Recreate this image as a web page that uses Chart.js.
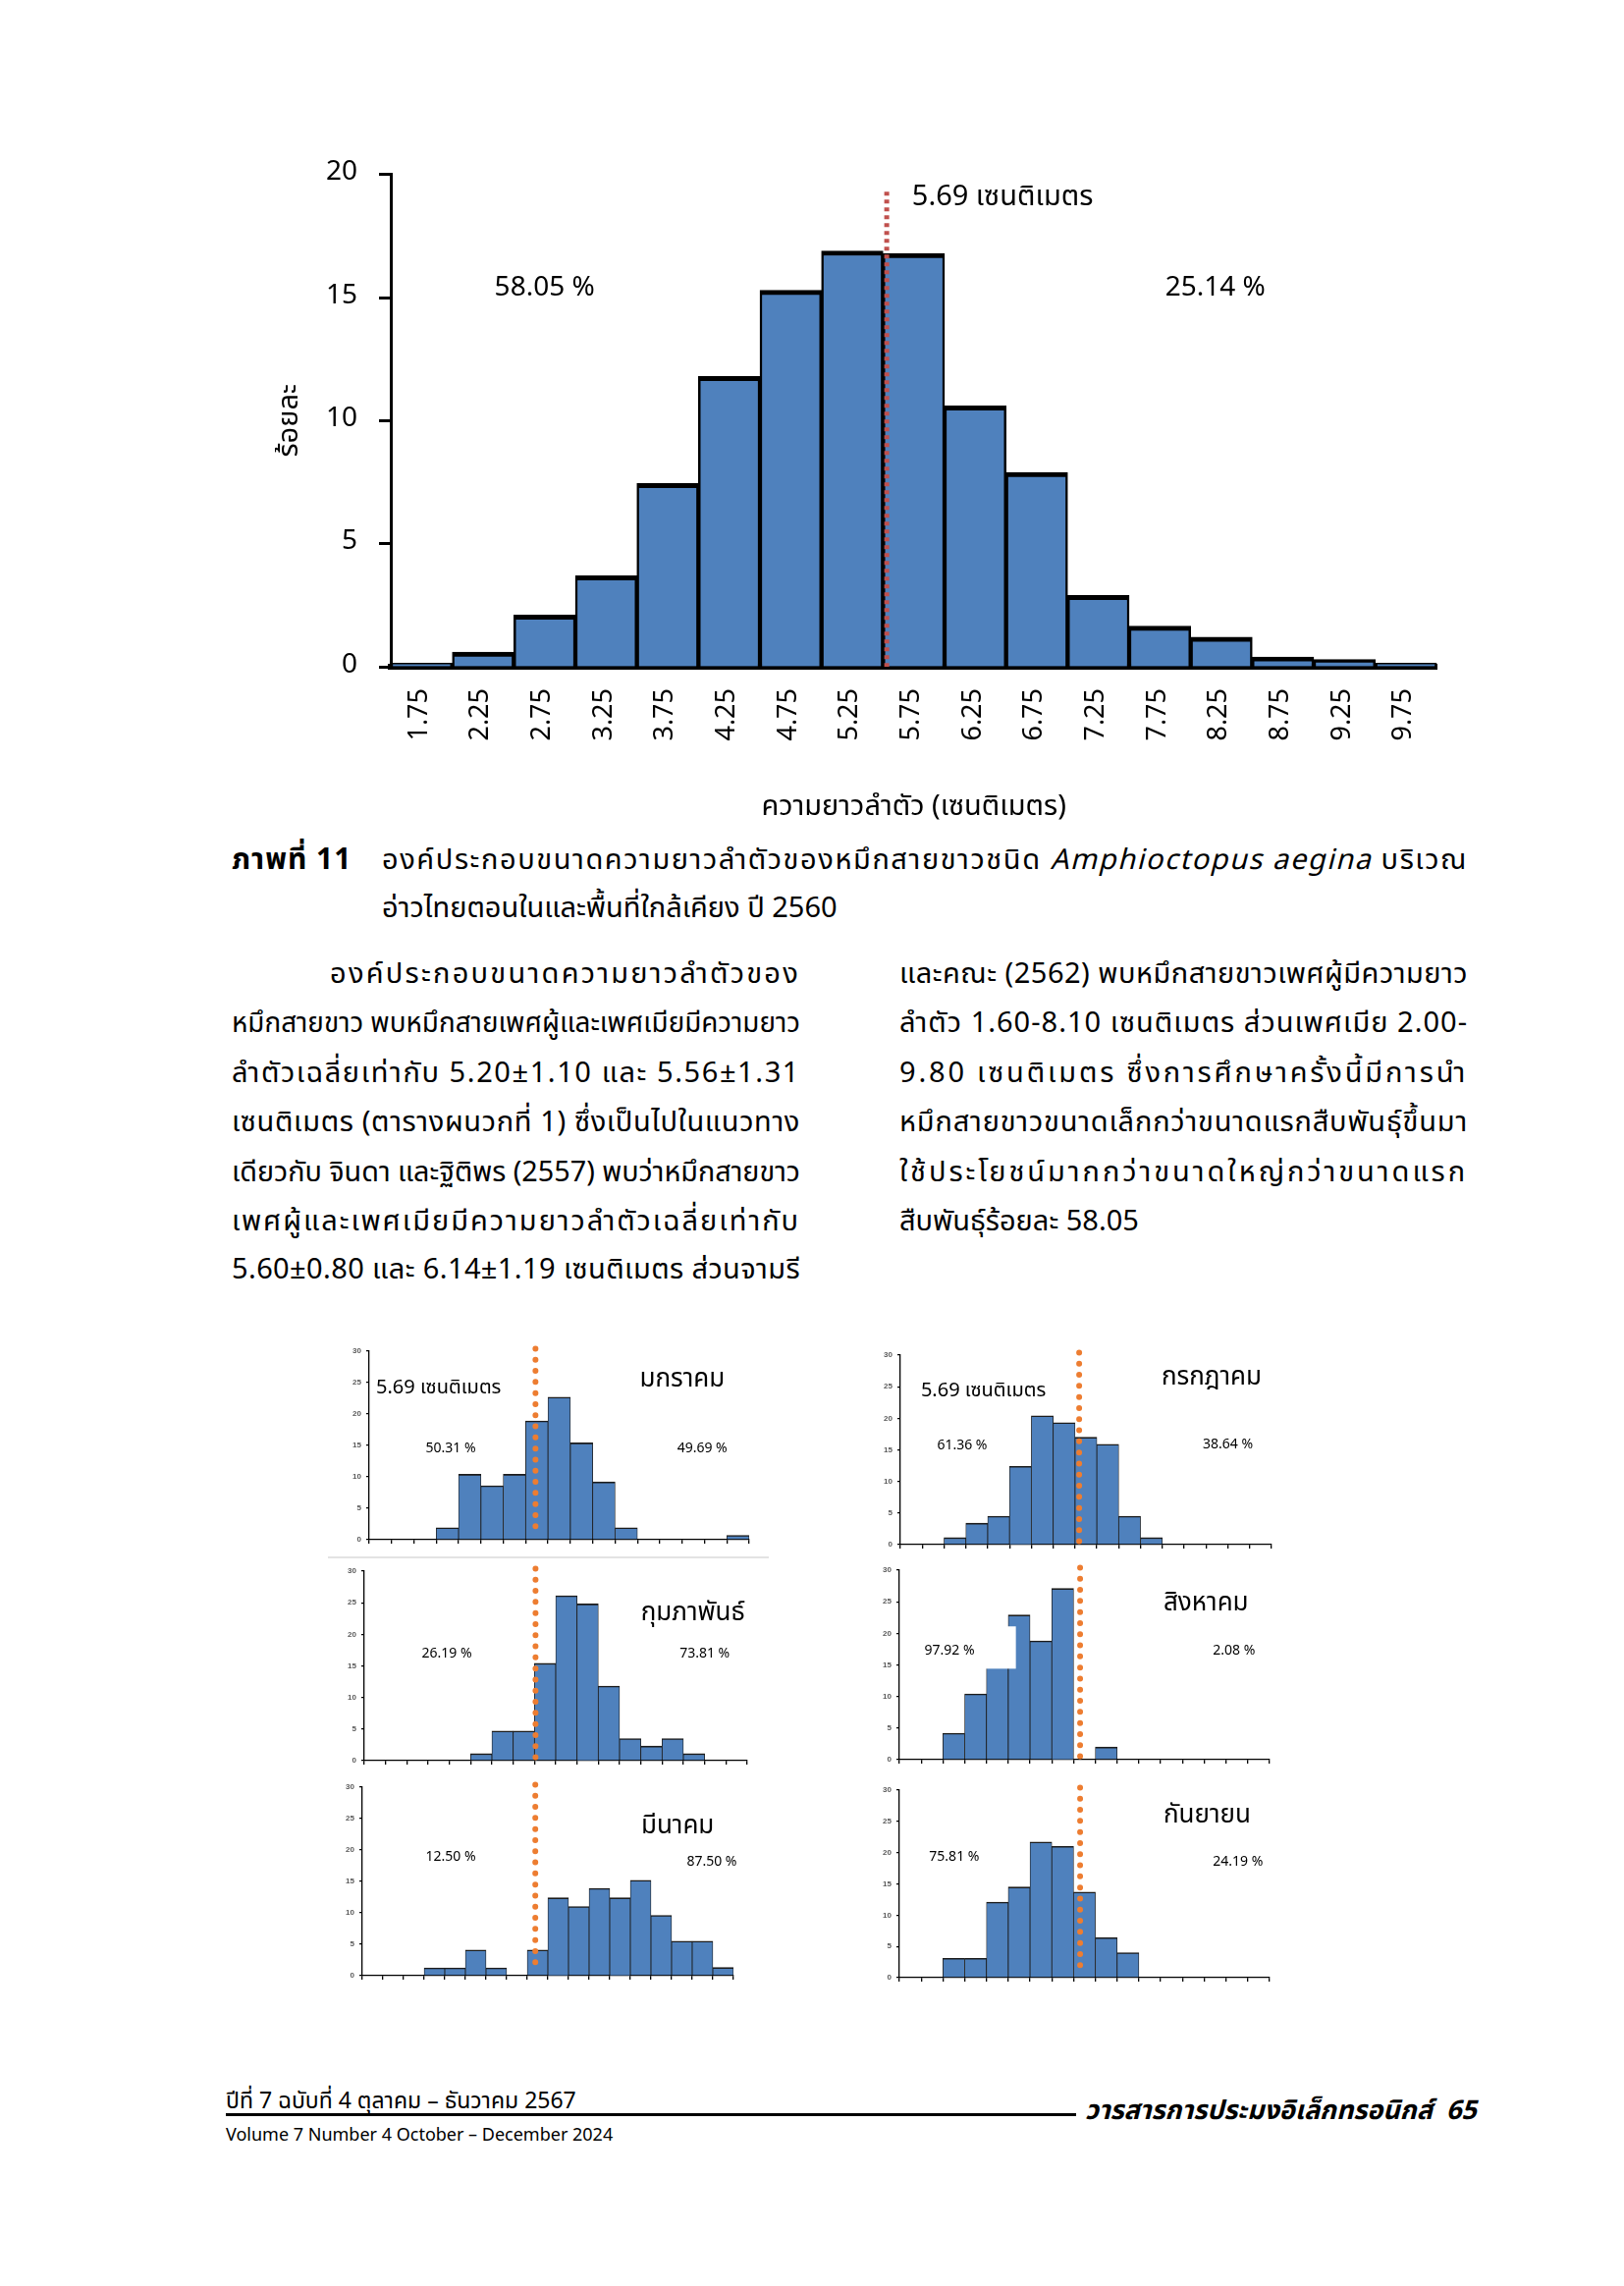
<!DOCTYPE html>
<html lang="th">
<head>
<meta charset="utf-8">
<title>ภาพที่ 11</title>
<script src="https://cdn.jsdelivr.net/npm/chart.js@4.4.0/dist/chart.umd.min.js"></script>
<style>
    html, body { margin: 0; padding: 0; background: #fff; }
    #page {
        position: relative;
        width: 1654px;
        height: 2328px;
        overflow: hidden;
        color: #000;
        font-family: 'Noto Sans Thai', 'Noto Sans', 'DejaVu Sans', sans-serif;
    }
    .abs { position: absolute; }
    .ln {
        position: absolute;
        white-space: nowrap;
        font-size: 29px;
        height: 44px;
        line-height: 44px;
    }
    .ln span { white-space: nowrap; }
    canvas { display: block; }
</style>
</head>
<body>
<div id="page">
    <canvas id="mainChart" class="abs" width="1207" height="703" style="left:280px; top:139px;"></canvas>

    <div class="ln" style="left:236px; top:854px; font-size:30px; letter-spacing:1px;"><span><b>ภาพที่ 11</b></span></div>
    <div class="ln" style="left:389px; top:854px;" data-w="1106" data-j="1"><span>องค์ประกอบขนาดความยาวลำตัวของหมึกสายขาวชนิด <i>Amphioctopus aegina</i> บริเวณ</span></div>
    <div class="ln" style="left:389px; top:903px;"><span>อ่าวไทยตอนในและพื้นที่ใกล้เคียง ปี 2560</span></div>

    <div class="ln" style="left:336px; top:970px;" data-w="479" data-j="1"><span>องค์ประกอบขนาดความยาวลำตัวของ</span></div>
    <div class="ln" style="left:236px; top:1020px;" data-w="579" data-j="1"><span>หมึกสายขาว พบหมึกสายเพศผู้และเพศเมียมีความยาว</span></div>
    <div class="ln" style="left:236px; top:1071px;" data-w="579" data-j="1"><span>ลำตัวเฉลี่ยเท่ากับ 5.20±1.10 และ 5.56±1.31</span></div>
    <div class="ln" style="left:236px; top:1121px;" data-w="579" data-j="1"><span>เซนติเมตร (ตารางผนวกที่ 1) ซึ่งเป็นไปในแนวทาง</span></div>
    <div class="ln" style="left:236px; top:1172px;" data-w="579" data-j="1"><span>เดียวกับ จินดา และฐิติพร (2557) พบว่าหมึกสายขาว</span></div>
    <div class="ln" style="left:236px; top:1222px;" data-w="579" data-j="1"><span>เพศผู้และเพศเมียมีความยาวลำตัวเฉลี่ยเท่ากับ</span></div>
    <div class="ln" style="left:236px; top:1271px;" data-w="579" data-j="1"><span>5.60±0.80 และ 6.14±1.19 เซนติเมตร ส่วนจามรี</span></div>

    <div class="ln" style="left:916px; top:970px;" data-w="579" data-j="1"><span>และคณะ (2562) พบหมึกสายขาวเพศผู้มีความยาว</span></div>
    <div class="ln" style="left:916px; top:1020px;" data-w="579" data-j="1"><span>ลำตัว 1.60-8.10 เซนติเมตร ส่วนเพศเมีย 2.00-</span></div>
    <div class="ln" style="left:916px; top:1071px;" data-w="579" data-j="1"><span>9.80 เซนติเมตร ซึ่งการศึกษาครั้งนี้มีการนำ</span></div>
    <div class="ln" style="left:916px; top:1121px;" data-w="579" data-j="1"><span>หมึกสายขาวขนาดเล็กกว่าขนาดแรกสืบพันธุ์ขึ้นมา</span></div>
    <div class="ln" style="left:916px; top:1172px;" data-w="579" data-j="1"><span>ใช้ประโยชน์มากกว่าขนาดใหญ่กว่าขนาดแรก</span></div>
    <div class="ln" style="left:916px; top:1222px;"><span>สืบพันธุ์ร้อยละ 58.05</span></div>

    <canvas id="janChart" class="abs" width="423" height="216" style="left:346px; top:1362px;"></canvas>
    <canvas id="julChart" class="abs" width="414" height="217" style="left:887px; top:1366px;"></canvas>
    <div class="abs" style="left:334px; top:1585px; width:449px; height:2px; background:#e3e3e3;"></div>
    <canvas id="febChart" class="abs" width="426" height="217" style="left:341px; top:1586px;"></canvas>
    <canvas id="augChart" class="abs" width="413" height="217" style="left:886px; top:1585px;"></canvas>
    <canvas id="marChart" class="abs" width="414" height="216" style="left:339px; top:1806px;"></canvas>
    <canvas id="sepChart" class="abs" width="413" height="215" style="left:886px; top:1809px;"></canvas>

    <div class="ln" style="left:230px; top:2122px; font-size:23px; height:36px; line-height:36px;" data-w="357"><span>ปีที่ 7 ฉบับที่ 4 ตุลาคม – ธันวาคม 2567</span></div>
    <div class="abs" style="left:230px; top:2152px; width:866px; height:3px; background:#000;"></div>
    <div class="ln" style="left:1105px; top:2130px; font-size:27px; height:40px; line-height:40px; font-weight:bold; font-style:italic;" data-w="410"><span>วารสารการประมงอิเล็กทรอนิกส์&nbsp; 65</span></div>
    <div class="ln" style="left:230px; top:2161px; font-size:18px; height:28px; line-height:28px;" data-w="401"><span>Volume 7 Number 4 October – December 2024</span></div>
</div>

<script>
// ---- main histogram (whole year 2560) ----
const mainLabels = ['1.75', '2.25', '2.75', '3.25', '3.75', '4.25', '4.75', '5.25', '5.75',
    '6.25', '6.75', '7.25', '7.75', '8.25', '8.75', '9.25', '9.75'];
const mainPercent = [0.15, 0.6, 2.1, 3.7, 7.45, 11.8, 15.3, 16.9, 16.8, 10.6, 7.9, 2.9, 1.65, 1.2, 0.4, 0.3, 0.15];
const mainMeanPos = 7.56;      // 5.69 cm on the bin axis
const mainLeftShare = '58.05 %';
const mainRightShare = '25.14 %';

// ---- monthly histograms ----
const binLabels17 = mainLabels;
const binLabels18 = ['1.25'].concat(mainLabels);
const janPercent = [0, 0, 0, 1.9, 10.4, 8.6, 10.4, 18.9, 22.7, 15.4, 9.2, 1.9, 0, 0, 0, 0, 0.7];
const julPercent = [0, 0, 1.1, 3.4, 4.5, 12.4, 20.4, 19.3, 17.0, 15.9, 4.5, 1.1, 0, 0, 0, 0, 0];
const febPercent = [0, 0, 0, 0, 0, 1.1, 4.7, 4.7, 15.4, 26.1, 24.8, 11.8, 3.5, 2.3, 3.5, 1.1, 0, 0];
const augPercent = [0, 0, 4.2, 10.4, 16.0, 22.9, 18.8, 27.1, 0, 2.0, 0, 0, 0, 0, 0, 0, 0];
const marPercent = [0, 0, 0, 1.25, 1.25, 4.1, 1.25, 0, 4.1, 12.4, 11.0, 13.9, 12.4, 15.2, 9.6, 5.5, 5.5, 1.3];
const sepPercent = [0, 0, 3.1, 3.1, 12.1, 14.5, 21.7, 21.0, 13.7, 6.4, 4.0, 0, 0, 0, 0, 0, 0];

const thaiFont = "'Noto Sans Thai', 'Noto Sans', 'DejaVu Sans', sans-serif";

// draws the mean line, white label boxes and free text in data coordinates
const marksPlugin = {
    id: 'marks',
    afterDatasetsDraw(chart, args, opts) {
        const ctx = chart.ctx;
        const xs = chart.scales.x;
        const ys = chart.scales.y;

        (opts.boxes || []).forEach(b => {
            const x1 = xs.getPixelForValue(b.x1), x2 = xs.getPixelForValue(b.x2);
            const y1 = ys.getPixelForValue(b.y1), y2 = ys.getPixelForValue(b.y2);
            ctx.save();
            ctx.fillStyle = '#fff';
            ctx.fillRect(x1, y1, x2 - x1, y2 - y1);
            ctx.restore();
        });

        if (opts.line) {
            const l = opts.line;
            const px = xs.getPixelForValue(l.at);
            ctx.save();
            ctx.strokeStyle = l.color;
            ctx.lineWidth = l.width;
            ctx.lineCap = l.cap || 'butt';
            ctx.setLineDash(l.dash);
            ctx.beginPath();
            ctx.moveTo(px, ys.getPixelForValue(l.to));
            ctx.lineTo(px, ys.getPixelForValue(l.from));
            ctx.stroke();
            ctx.restore();
        }

        (opts.texts || []).forEach(t => {
            ctx.save();
            ctx.font = t.font;
            ctx.fillStyle = '#000';
            ctx.textAlign = t.align || 'center';
            ctx.textBaseline = 'middle';
            ctx.fillText(t.text, xs.getPixelForValue(t.x), ys.getPixelForValue(t.y));
            ctx.restore();
        });
    }
};

function drawMainChart() {
    new Chart(document.getElementById('mainChart'), {
        type: 'bar',
        data: {
            labels: mainLabels,
            datasets: [{
                data: mainPercent,
                backgroundColor: '#4F81BD',
                borderColor: '#000',
                borderWidth: { top: 5, left: 2.5, right: 2.5, bottom: 0 },
                borderSkipped: 'bottom',
                barPercentage: 1,
                categoryPercentage: 1
            }]
        },
        options: {
            responsive: false,
            animation: false,
            // the top gap comes from the y labels (half label + tick padding)
            layout: { padding: { top: 0, right: 20, left: 0, bottom: 0 } },
            plugins: {
                legend: { display: false },
                tooltip: { enabled: false },
                marks: {
                    line: { at: mainMeanPos, from: 0, to: 19.3, color: '#C0504D', width: 5, dash: [4, 4] },
                    texts: [
                        { text: '5.69 เซนติเมตร', x: 7.97, y: 19.0, align: 'left', font: '29px ' + thaiFont },
                        { text: mainLeftShare, x: 2.0, y: 15.3, font: '28px ' + thaiFont },
                        { text: mainRightShare, x: 12.9, y: 15.3, font: '28px ' + thaiFont }
                    ]
                }
            },
            scales: {
                x: {
                    grid: { display: false, drawTicks: false },
                    border: { display: true, color: '#000', width: 6 },
                    ticks: {
                        color: '#000',
                        font: { size: 27, family: thaiFont },
                        minRotation: 90,
                        maxRotation: 90,
                        padding: 22
                    },
                    title: {
                        display: true,
                        text: 'ความยาวลำตัว (เซนติเมตร)',
                        color: '#000',
                        font: { size: 29, family: thaiFont },
                        padding: 0
                    },
                    afterFit: scale => { scale.height = 163; }
                },
                y: {
                    min: 0,
                    max: 20,
                    grid: { drawOnChartArea: false, drawTicks: true, tickLength: 12, tickWidth: 3, color: '#000' },
                    border: { display: true, color: '#000', width: 3 },
                    ticks: {
                        stepSize: 5,
                        color: '#000',
                        padding: 22,
                        font: { size: 28, family: thaiFont }
                    },
                    title: {
                        display: true,
                        text: 'ร้อยละ',
                        color: '#000',
                        font: { size: 29, family: thaiFont },
                        padding: 0
                    },
                    afterFit: scale => { scale.width = 118; }
                }
            }
        },
        plugins: [marksPlugin]
    });
}

function drawMonthChart(id, labels, values, meanPos, texts, boxes) {
    new Chart(document.getElementById(id), {
        type: 'bar',
        data: {
            labels: labels,
            datasets: [{
                data: values,
                backgroundColor: '#4F81BD',
                borderColor: '#1c1c1c',
                borderWidth: { top: 1.6, left: 0.8, right: 0.8, bottom: 0 },
                borderSkipped: 'bottom',
                barPercentage: 1,
                categoryPercentage: 1
            }]
        },
        options: {
            responsive: false,
            animation: false,
            layout: { padding: { top: 14, right: 6, left: 0, bottom: 0 } },
            plugins: {
                legend: { display: false },
                tooltip: { enabled: false },
                marks: {
                    boxes: boxes || [],
                    line: { at: meanPos, from: 0.4, to: 30.4, color: '#ED7D31', width: 6, cap: 'round', dash: [0, 11.3] },
                    texts: texts
                }
            },
            scales: {
                x: {
                    grid: { display: true, drawOnChartArea: false, drawTicks: true, tickLength: 4, lineWidth: 1.3, color: '#000' },
                    border: { display: true, color: '#000', width: 1.3 },
                    ticks: { display: false },
                    afterFit: scale => { scale.height = 10; }
                },
                y: {
                    min: 0,
                    max: 30,
                    grid: { drawOnChartArea: false, drawTicks: true, tickLength: 3, lineWidth: 1.3, color: '#000' },
                    border: { display: true, color: '#000', width: 1.3 },
                    ticks: {
                        stepSize: 5,
                        color: '#5a5a5a',
                        padding: 5,
                        font: { size: 8, weight: 'bold', family: "'Liberation Sans', Arial, sans-serif" }
                    },
                    afterFit: scale => { scale.width = 30; }
                }
            }
        },
        plugins: [marksPlugin]
    });
}

function monthText(text, x, y, size, align) {
    return { text: text, x: x, y: y, align: align || 'center', font: size + 'px ' + thaiFont };
}

function drawMonthCharts() {
    drawMonthChart('janChart', binLabels17, janPercent, 6.94, [
        monthText('5.69 เซนติเมตร', -0.19, 23.9, 20, 'left'),
        monthText('มกราคม', 11.6, 25.2, 26, 'left'),
        monthText('50.31 %', 3.15, 14.4, 14),
        monthText('49.69 %', 14.4, 14.4, 14)
    ]);
    drawMonthChart('julChart', binLabels17, julPercent, 7.69, [
        monthText('5.69 เซนติเมตร', 0.44, 24.1, 20, 'left'),
        monthText('กรกฎาคม', 11.46, 26.1, 26, 'left'),
        monthText('61.36 %', 2.33, 15.55, 14),
        monthText('38.64 %', 14.5, 15.7, 14)
    ]);
    drawMonthChart('febChart', binLabels18, febPercent, 7.55, [
        monthText('กุมภาพันธ์', 12.5, 23.0, 26, 'left'),
        monthText('26.19 %', 3.38, 16.8, 14),
        monthText('73.81 %', 15.5, 16.8, 14)
    ]);
    drawMonthChart('augChart', binLabels17, augPercent, 7.8, [
        monthText('สิงหาคม', 11.63, 24.4, 26, 'left'),
        monthText('97.92 %', 1.8, 17.1, 14),
        monthText('2.08 %', 14.87, 17.1, 14)
    ], [
        { x1: 0.7, x2: 4.85, y1: 21.1, y2: 14.4 }
    ]);
    drawMonthChart('marChart', binLabels18, marPercent, 7.89, [
        monthText('มีนาคม', 13.02, 23.4, 26, 'left'),
        monthText('12.50 %', 3.79, 18.75, 14),
        monthText('87.50 %', 16.45, 17.97, 14)
    ]);
    drawMonthChart('sepChart', binLabels17, sepPercent, 7.8, [
        monthText('กันยายน', 11.63, 25.6, 26, 'left'),
        monthText('75.81 %', 2.02, 19.15, 14),
        monthText('24.19 %', 15.05, 18.4, 14)
    ]);
}

function countClusters(text) {
    if (window.Intl && Intl.Segmenter) {
        return Array.from(new Intl.Segmenter('th', { granularity: 'grapheme' }).segment(text)).length;
    }
    return text.length;
}

// stretch or squeeze each text line to the column width
function fitLines() {
    document.querySelectorAll('.ln[data-w]').forEach(el => {
        const target = parseFloat(el.dataset.w);
        const span = el.firstElementChild;
        const natural = span.getBoundingClientRect().width;
        if (natural > target) {
            span.style.display = 'inline-block';
            span.style.transformOrigin = 'left center';
            span.style.transform = 'scaleX(' + (target / natural) + ')';
        } else if (el.dataset.j) {
            // spread the slack over the letters, then correct once more
            const units = Math.max(countClusters(span.textContent), 1);
            let spacing = (target - natural) / units;
            span.style.letterSpacing = spacing + 'px';
            const now = span.getBoundingClientRect().width;
            spacing += (target - now) / units;
            span.style.letterSpacing = spacing + 'px';
        }
    });
}

fitLines();
drawMainChart();
drawMonthCharts();
</script>
</body>
</html>
